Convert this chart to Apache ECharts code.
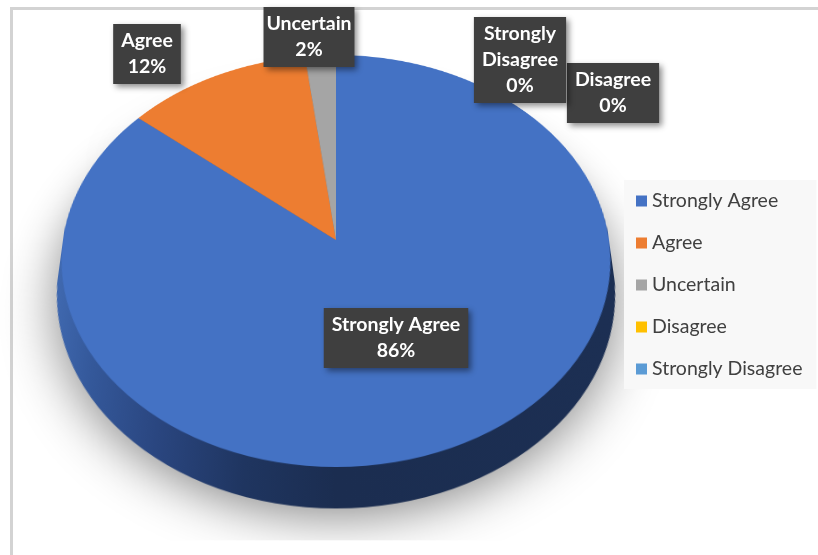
<!DOCTYPE html>
<html>
<head>
<meta charset="utf-8">
<title>Survey responses</title>
<script src="https://cdn.jsdelivr.net/npm/echarts@6/dist/echarts.min.js"></script>
<style>
  html, body { margin: 0; padding: 0; background: #fff; width: 818px; height: 555px; overflow: hidden; }
  .rule { position: absolute; background: #d3d3d3; }
  #ruleTop { left: 10px; top: 7px; width: 808px; height: 3px; }
  #ruleLeft { left: 10px; top: 7px; width: 3px; height: 548px; }
  /* the pie disk is tilted back with css perspective to get the excel 3d look */
  #disk { position: absolute; left: -14px; top: -110px; width: 700px; height: 700px;
          transform-origin: 350px 350px; transform: perspective(1782px) rotateX(41.7deg); }
  #overlay { position: absolute; left: 0; top: 0; width: 818px; height: 555px; }
</style>
</head>
<body>
<div class="rule" id="ruleTop"></div>
<div class="rule" id="ruleLeft"></div>
<div id="disk"></div>
<div id="overlay"></div>
<script>
const categories = ['Strongly Agree', 'Agree', 'Uncertain', 'Disagree', 'Strongly Disagree'];
const shares = [86, 12, 2, 0, 0];
const faceColors = ['#4472c4', '#ed7d31', '#a5a5a5', '#ffc000', '#5b9bd5'];

// where excel put each data label (box centre, px)
const labelSpots = [[396, 338], [147, 54], [309, 37], [613, 93], [520, 60]];

const pieData = categories.map((name, i) => ({ name: name, value: shares[i] }));

const blueSide = new echarts.graphic.LinearGradient(0, 0, 1, 0, [
  { offset: 0, color: '#4069b0' },
  { offset: 0.08, color: '#34589a' },
  { offset: 0.2, color: '#2a4680' },
  { offset: 0.35, color: '#1f3560' },
  { offset: 0.5, color: '#1b2d50' },
  { offset: 1, color: '#1c2f53' }
]);
const sideColors = [blueSide, '#b0591f', '#7a7a7a', '#bf9000', '#41719c'];

const RADIUS = 273;
const DEPTH = 44;
const STEP = 2;

// ---- the disk: side layers first, then the top face
const diskChart = echarts.init(document.getElementById('disk'));
const diskSeries = [];
for (let k = DEPTH; k >= STEP; k -= STEP) {
  diskSeries.push({
    type: 'pie',
    silent: true,
    startAngle: 90,
    clockwise: true,
    radius: RADIUS,
    center: [350, 350 + k],
    label: { show: false },
    labelLine: { show: false },
    data: pieData.map((d, i) => ({
      name: d.name, value: d.value,
      itemStyle: k === DEPTH
        ? { color: sideColors[i], shadowBlur: 50, shadowOffsetY: 10, shadowColor: 'rgba(0,0,0,0.45)' }
        : { color: sideColors[i] }
    }))
  });
}
diskSeries.push({
  type: 'pie',
  silent: true,
  startAngle: 90,
  clockwise: true,
  radius: RADIUS,
  center: [350, 350],
  label: { show: false },
  labelLine: { show: false },
  data: pieData.map((d, i) => ({ name: d.name, value: d.value, itemStyle: { color: faceColors[i] } }))
});
diskChart.setOption({ animation: false, series: diskSeries });

// ---- flat layer on top: data labels and legend (the sectors here are invisible)
const overlay = echarts.init(document.getElementById('overlay'));
overlay.setOption({
  animation: false,
  legend: {
    orient: 'vertical',
    left: 624,
    top: 180,
    backgroundColor: '#f8f8f8',
    padding: [11, 14, 10, 12],
    itemGap: 22,
    itemWidth: 11,
    itemHeight: 11,
    icon: 'rect',
    textStyle: { fontFamily: 'Lato', fontSize: 19.5, color: '#404040' },
    data: categories.map((name, i) => ({ name: name, itemStyle: { color: faceColors[i] } }))
  },
  series: [{
    type: 'pie',
    silent: true,
    startAngle: 90,
    clockwise: true,
    radius: 200,
    center: [336, 240],
    itemStyle: { color: 'rgba(0,0,0,0)' },
    labelLine: { show: false },
    label: {
      show: true,
      overflow: 'none',
      formatter: p => (p.name.length > 15 ? p.name.replace(' ', '\n') : p.name) + '\n' + p.percent + '%',
      fontFamily: 'Lato',
      fontWeight: 'bold',
      fontSize: 19.5,
      lineHeight: 26,
      color: '#fff',
      align: 'center',
      backgroundColor: '#3f3f3f',
      padding: [4, 8],
      shadowColor: 'rgba(0,0,0,0.45)',
      shadowBlur: 6,
      shadowOffsetX: 3,
      shadowOffsetY: 3
    },
    labelLayout: p => ({
      x: labelSpots[p.dataIndex][0],
      y: labelSpots[p.dataIndex][1],
      align: 'center',
      verticalAlign: 'middle'
    }),
    data: pieData
  }]
});
</script>
</body>
</html>
